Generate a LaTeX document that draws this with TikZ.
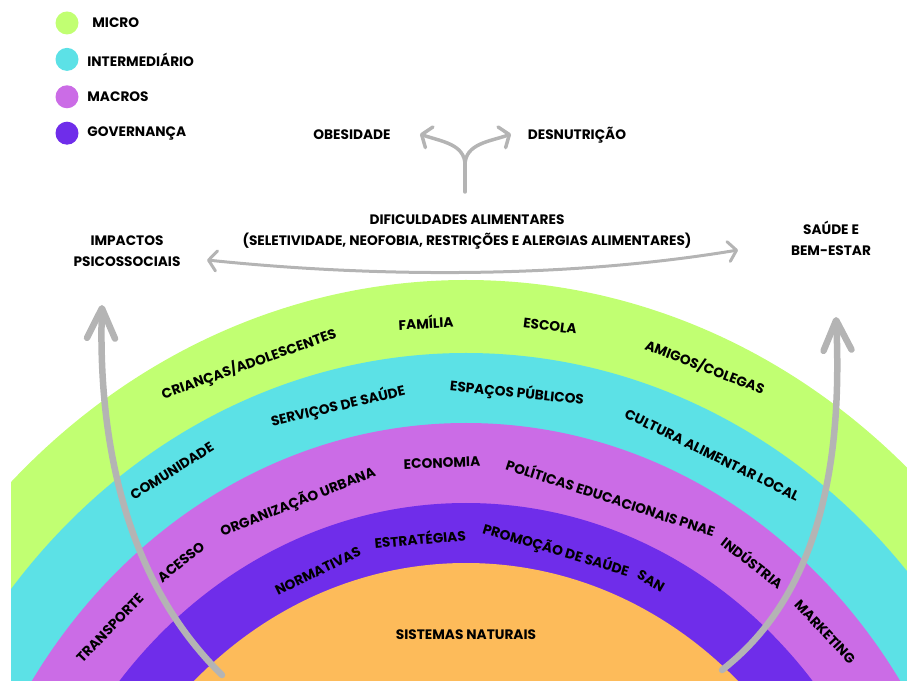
\documentclass[tikz,border=0pt]{standalone}
\usepackage{fontspec}
\setmainfont{Poppins}
\usepackage{xcolor}
\definecolor{microgreen}{RGB}{193,255,114}
\definecolor{interblue}{RGB}{92,225,230}
\definecolor{macropink}{RGB}{203,108,230}
\definecolor{govpurple}{RGB}{111,45,234}
\definecolor{naturorange}{RGB}{253,187,90}
\definecolor{arrowgrey}{RGB}{180,180,180}
\usepackage{tikz}
\usetikzlibrary{arrows.meta,positioning}

\begin{document}
\begin{tikzpicture}[x=1pt, y=1pt,
    lbl/.style={font=\fontsize{13.7}{21}\selectfont\bfseries, inner sep=1pt},
    legdot/.style={circle, minimum size=23pt, inner sep=0pt},
    grarrow/.style={draw=arrowgrey, line cap=round}]
    \useasboundingbox (0,0) rectangle (907,680);

    % Rings (semi-ellipses, cut at the frame)
    \begin{scope}
        \clip (11,0) rectangle (907,680);
        \fill[microgreen]  (466,-320) ellipse (655 and 720);
        \fill[interblue]   (466,-320) ellipse (589 and 647);
        \fill[macropink]   (466,-320) ellipse (521 and 577);
        \fill[govpurple]   (466,-320) ellipse (452 and 497);
        \fill[naturorange] (466,-320) ellipse (398 and 437);
    \end{scope}

    % Legend
    \node[legdot, fill=microgreen] (dmicro) at (67,657) {};
    \node[legdot, fill=interblue, below=13pt of dmicro] (dinter) {};
    \node[legdot, fill=macropink, below=14pt of dinter] (dmacro) {};
    \node[legdot, fill=govpurple, below=13pt of dmacro] (dgov) {};
    \node[lbl, right=12.5pt of dmicro] (tmicro) {MICRO};
    \node[lbl, right=7.5pt of dinter] (tinter) {INTERMEDIÁRIO};
    \node[lbl, right=7.5pt of dmacro] (tmacro) {MACROS};
    \node[lbl, right=7.5pt of dgov] (tgov) {GOVERNANÇA};

    % Outcomes on top
    \node[lbl] (obes) at (352,545) {OBESIDADE};
    \node[lbl] (desn) at (577,545) {DESNUTRIÇÃO};
    \node[lbl, align=center] (dific) at (467,448)
        {DIFICULDADES ALIMENTARES\\(SELETIVIDADE, NEOFOBIA, RESTRIÇÕES E ALERGIAS ALIMENTARES)};
    \node[lbl, align=center] (impactos) at (127,429) {IMPACTOS\\PSICOSSOCIAIS};
    \node[lbl, align=center] (saude) at (831,442) {SAÚDE E\\BEM-ESTAR};

    \coordinate (stem) at (465,488);
    \coordinate (fork) at (465,515);
    \coordinate (obestip) at (420,546);
    \coordinate (desntip) at (511,546);
    \draw[grarrow, line width=3.5pt] (stem) -- (fork);
    \draw[grarrow, line width=3.5pt, -{Straight Barb[length=8pt, width=22pt, round]}]
        (fork) to[out=90, in=-20] (obestip);
    \draw[grarrow, line width=3.5pt, -{Straight Barb[length=8pt, width=22pt, round]}]
        (fork) to[out=90, in=200] (desntip);

    \coordinate (imptip) at (207,420);
    \coordinate (saudetip) at (738,430);
    \draw[grarrow, line width=3pt, {Straight Barb[length=8pt, width=20pt, round]}-{Straight Barb[length=8pt, width=20pt, round]}]
        (imptip) .. controls (380,402) and (570,402) .. (saudetip);

    % Ring labels - micro
    \node[lbl, rotate=19.5] (criancas) at (249,316) {CRIANÇAS/ADOLESCENTES};
    \node[lbl, rotate=3] (familia) at (426,358) {FAMÍLIA};
    \node[lbl, rotate=-7] (escola) at (550,354) {ESCOLA};
    \node[lbl, rotate=-21] (amigos) at (705,313) {AMIGOS/COLEGAS};
    % intermediario
    \node[lbl, rotate=32] (comunidade) at (172,209) {COMUNIDADE};
    \node[lbl, rotate=13] (servicos) at (338,274) {SERVIÇOS DE SAÚDE};
    \node[lbl, rotate=-6] (espacos) at (517,287) {ESPAÇOS PÚBLICOS};
    \node[lbl, rotate=-26] (cultura) at (712,225) {CULTURA ALIMENTAR LOCAL};
    % macros
    \node[lbl, rotate=46] (transporte) at (110,52) {TRANSPORTE};
    \node[lbl, rotate=39] (acesso) at (181,118) {ACESSO};
    \node[lbl, rotate=21.5] (organizacao) at (298,178) {ORGANIZAÇÃO URBANA};
    \node[lbl, rotate=2] (economia) at (442,217) {ECONOMIA};
    \node[lbl, rotate=-18] (politicas) at (611,183) {POLÍTICAS EDUCACIONAIS PNAE};
    \node[lbl, rotate=-38] (industria) at (753,118) {INDÚSTRIA};
    \node[lbl, rotate=-47] (marketing) at (825,48) {MARKETING};
    % governanca
    \node[lbl, rotate=26] (normativas) at (318,109) {NORMATIVAS};
    \node[lbl, rotate=5] (estrategias) at (420,142) {ESTRATÉGIAS};
    \node[lbl, rotate=-16.5] (promocao) at (556,130) {PROMOÇÃO DE SAÚDE};
    \node[lbl, rotate=-30] (san) at (651,99) {SAN};
    % core
    \node[lbl] (sistemas) at (466,45) {SISTEMAS NATURAIS};

    % Big side arrows
    \coordinate (lbase) at (222,5);
    \coordinate (ltip) at (102,375);
    \coordinate (rbase) at (722,10);
    \coordinate (rtip) at (836,363);
    \draw[grarrow, line width=6.5pt, -{Straight Barb[length=30pt, width=28pt, round]}]
        (lbase) .. controls (125,100) and (98,240) .. (ltip);
    \draw[grarrow, line width=6.5pt, -{Straight Barb[length=30pt, width=28pt, round]}]
        (rbase) .. controls (825,90) and (842,230) .. (rtip);
\end{tikzpicture}
\end{document}
